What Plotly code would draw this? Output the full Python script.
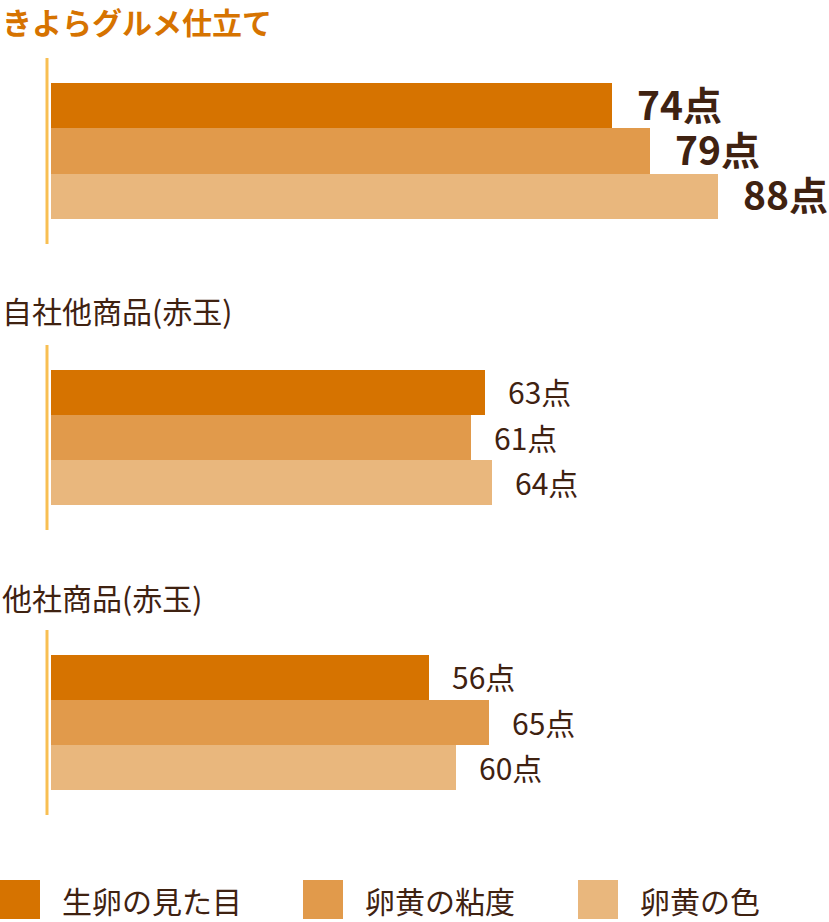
import plotly.graph_objects as go

# Data
groups = ["きよらグルメ仕立て", "自社他商品(赤玉)", "他社商品(赤玉)"]
metrics = ["生卵の見た目", "卵黄の粘度", "卵黄の色"]
scores_kiyora = [74, 79, 88]
scores_own = [63, 61, 64]
scores_other = [56, 65, 60]
all_scores = [scores_kiyora, scores_own, scores_other]

# Styles
FONT = "Noto Sans CJK JP"
BAR_COLORS = ["#d67300", "#e19a4b", "#e9b77d"]
TEXT_COLOR = "#3f2211"
TITLE_ORANGE = "#d67300"
AXIS_LINE = "#f8bf52"
W, H = 829, 922

# pixel layout of each panel (top, bottom) and x range per panel
panel_px = [(58, 244), (345, 530), (630, 815)]
x_ranges = [102.6, 112.9, 115.4]
title_y_px = [21, 310, 597]

fig = go.Figure()
annotations = []
shapes = []

for i, (grp, scores) in enumerate(zip(groups, all_scores)):
    n = "" if i == 0 else str(i + 1)
    xa, ya = "x" + n, "y" + n
    for j, (m, v) in enumerate(zip(metrics, scores)):
        fig.add_trace(go.Bar(
            x=[v], y=[m], orientation="h",
            marker=dict(color=BAR_COLORS[j], line=dict(width=0)),
            xaxis=xa, yaxis=ya, showlegend=False, hoverinfo="x+y",
        ))
        annotations.append(dict(
            x=v, y=m, xref=xa, yref=ya, text=f"{v}点",
            showarrow=False, xanchor="left", yanchor="middle",
            xshift=21 if i else 23, yshift=3 if i == 0 else 1,
            font=dict(family=FONT, size=39 if i == 0 else 30,
                      color=TEXT_COLOR, weight="bold" if i == 0 else "normal"),
        ))

    top, bot = panel_px[i]
    fig.update_layout(**{
        "xaxis" + n: dict(domain=[51 / W, 1], range=[0, x_ranges[i]],
                          visible=False, anchor=ya),
        "yaxis" + n: dict(domain=[(H - bot) / H, (H - top) / H],
                          categoryorder="array", categoryarray=metrics,
                          range=[3.05, -1.05], visible=False, anchor=xa),
    })

    # vertical axis line
    shapes.append(dict(type="line", xref="paper", yref="paper",
                       x0=47 / W, x1=47 / W, y0=(H - bot) / H, y1=(H - top) / H,
                       line=dict(color=AXIS_LINE, width=3)))

    # group title
    annotations.append(dict(
        x=0, y=(H - title_y_px[i]) / H, xref="paper", yref="paper",
        text=grp, showarrow=False, xanchor="left", yanchor="middle", xshift=0,
        font=dict(family=FONT, size=30,
                  color=TITLE_ORANGE if i == 0 else TEXT_COLOR,
                  weight="bold" if i == 0 else "normal"),
    ))

# custom legend at the bottom
legend_x_px = [0, 303, 578]
for j, m in enumerate(metrics):
    x0 = legend_x_px[j]
    shapes.append(dict(type="rect", xref="paper", yref="paper",
                       x0=x0 / W, x1=(x0 + 40) / W, y0=(H - 919) / H, y1=(H - 880) / H,
                       fillcolor=BAR_COLORS[j], line=dict(width=0)))
    annotations.append(dict(
        x=(x0 + 60) / W, y=(H - 900) / H, xref="paper", yref="paper",
        text=m, showarrow=False, xanchor="left", yanchor="middle",
        font=dict(family=FONT, size=30, color=TEXT_COLOR),
    ))

fig.update_layout(
    width=W, height=H,
    margin=dict(l=0, r=0, t=0, b=0),
    barmode="group", bargap=0, bargroupgap=0,
    plot_bgcolor="white", paper_bgcolor="white",
    annotations=annotations, shapes=shapes,
    showlegend=False,
)

# the page's default body margin would push the figure off the window
fig.write_html("out.html", config={"displayModeBar": False},
               post_script="document.body.style.margin='0';document.body.style.overflow='hidden';")
